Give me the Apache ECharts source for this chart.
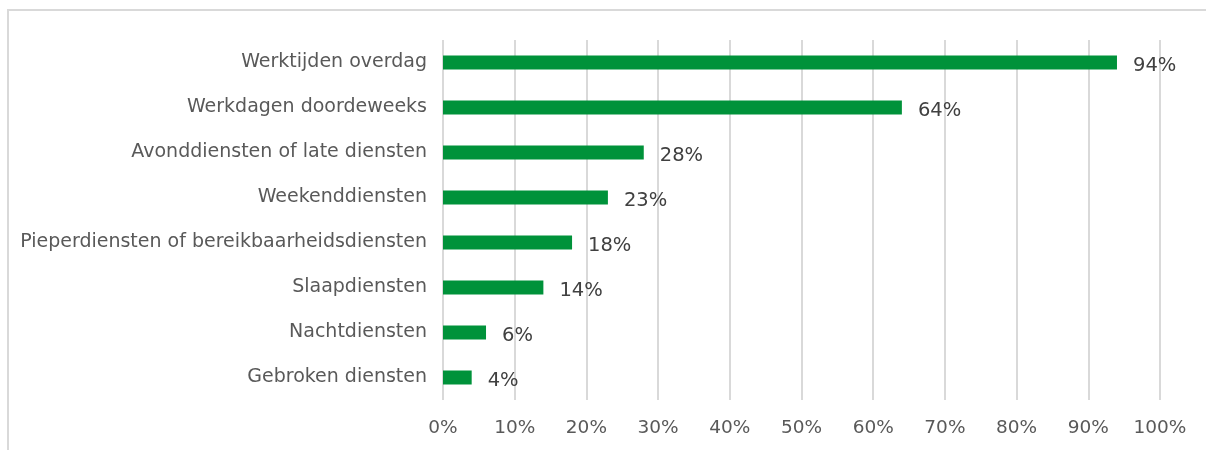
<!DOCTYPE html>
<html>
<head>
<meta charset="utf-8">
<script src="https://cdn.jsdelivr.net/npm/echarts@6/dist/echarts.min.js"></script>
<style>
  html, body { margin: 0; padding: 0; background: #fff; }
  #wrap { position: relative; width: 1206px; height: 450px; overflow: hidden; }
  #frame { position: absolute; left: 7px; top: 9px; width: 1220px; height: 460px; border: 2px solid #d9d9d9; box-sizing: border-box; }
  #chart { position: absolute; left: 0; top: 0; width: 1206px; height: 450px; }
</style>
</head>
<body>
<div id="wrap">
  <div id="frame"></div>
  <div id="chart"></div>
</div>
<script>
const categories = [
  'Werktijden overdag',
  'Werkdagen doordeweeks',
  'Avonddiensten of late diensten',
  'Weekenddiensten',
  'Pieperdiensten of bereikbaarheidsdiensten',
  'Slaapdiensten',
  'Nachtdiensten',
  'Gebroken diensten'
];
const percentages = [94, 64, 28, 23, 18, 14, 6, 4];

const chart = echarts.init(document.getElementById('chart'), null, { renderer: 'canvas' });
const fontFamily = 'DejaVu Sans, Verdana, sans-serif';

chart.setOption({
  animation: false,
  grid: { left: 443, right: 46, top: 40, bottom: 50, containLabel: false },
  xAxis: {
    type: 'value',
    min: 0,
    max: 100,
    interval: 10,
    axisLine: { show: false },
    axisTick: { show: false },
    splitLine: { show: true, lineStyle: { color: '#d9d9d9', width: 2 } },
    axisLabel: {
      formatter: '{value}%',
      color: '#595959',
      fontSize: 18.5,
      fontFamily: fontFamily,
      margin: 19
    }
  },
  yAxis: {
    type: 'category',
    data: categories,
    inverse: true,
    axisLine: { show: false },
    axisTick: { show: false },
    axisLabel: {
      color: '#595959',
      fontSize: 19,
      fontFamily: fontFamily,
      margin: 16,
      padding: [4, 0, 0, 0]
    }
  },
  series: [{
    type: 'bar',
    data: percentages,
    barWidth: 14,
    itemStyle: { color: '#00923a' },
    label: {
      show: true,
      position: 'right',
      distance: 16,
      formatter: '{c}%',
      color: '#404040',
      fontSize: 19.5,
      fontFamily: fontFamily,
      offset: [0, 3]
    }
  }]
});
</script>
</body>
</html>
